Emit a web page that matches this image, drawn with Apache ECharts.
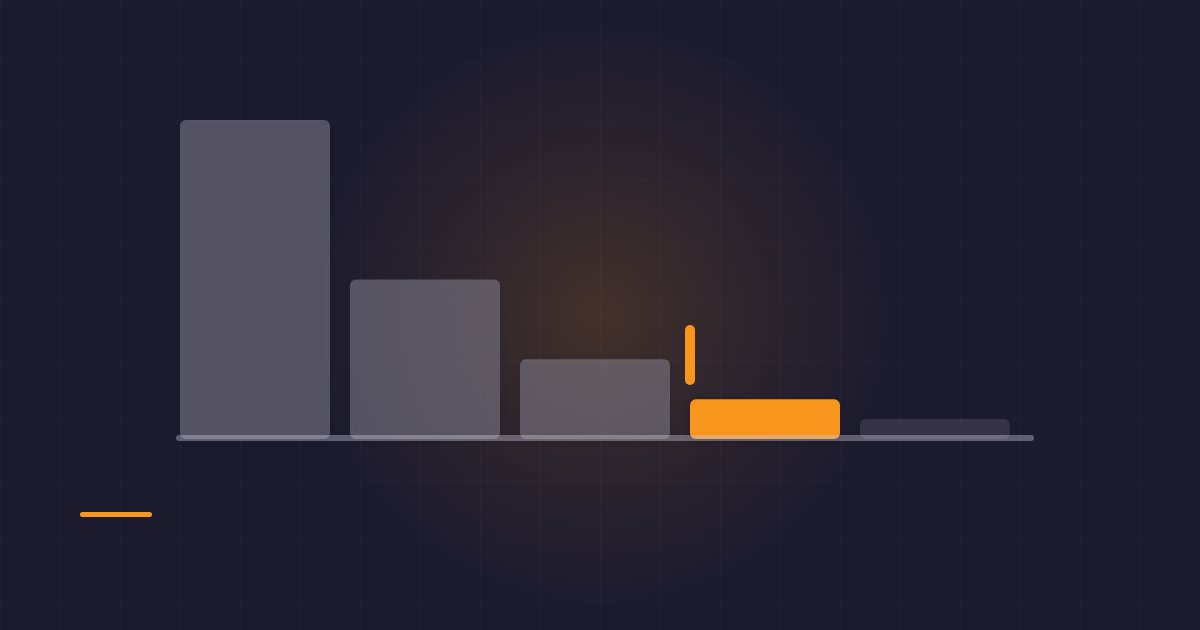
<!DOCTYPE html>
<html>
<head>
<meta charset="utf-8">
<script src="https://cdn.jsdelivr.net/npm/echarts@6/dist/echarts.min.js"></script>
<style>
  html, body { margin: 0; padding: 0; background: #1c1b2e; }
  #main { width: 1200px; height: 630px; }
</style>
</head>
<body>
<div id="main"></div>
<script>
// data
var categories = ['A', 'B', 'C', 'D', 'E'];
var values = [16, 8, 4, 2, 1];
var highlightIndex = 3;
var mutedIndex = 4;

function barColor(i) {
    if (i === highlightIndex) return '#f7951d';
    if (i === mutedIndex) return 'rgba(165,162,180,0.18)';
    return 'rgba(165,162,178,0.42)';
}

var serdata = [];
for (var i = 0; i < values.length; i++) {
    serdata.push({
        value: values[i],
        itemStyle: { color: barColor(i) }
    });
}

var option = {
    backgroundColor: '#1c1b2e',
    animation: false,
    grid: [
        { left: 170, right: 180, top: 120, bottom: 191 },
        { left: 0, right: 0, top: 0, bottom: 0 }
    ],
    xAxis: [
        {
            type: 'category', data: categories, gridIndex: 0,
            axisLine: { show: false }, axisTick: { show: false },
            axisLabel: { show: false }, splitLine: { show: false }
        },
        {
            type: 'value', gridIndex: 1, min: 0, max: 1200, interval: 60,
            axisLine: { show: false }, axisTick: { show: false }, axisLabel: { show: false },
            splitLine: { show: true, lineStyle: { color: 'rgba(255,255,255,0.02)', width: 1 } }
        }
    ],
    yAxis: [
        {
            type: 'value', gridIndex: 0, min: 0, max: 16,
            axisLine: { show: false }, axisTick: { show: false },
            axisLabel: { show: false }, splitLine: { show: false }
        },
        {
            type: 'value', gridIndex: 1, min: 0, max: 630, interval: 60, inverse: true,
            axisLine: { show: false }, axisTick: { show: false }, axisLabel: { show: false },
            splitLine: { show: true, lineStyle: { color: 'rgba(255,255,255,0.02)', width: 1 } }
        }
    ],
    graphic: [
        {
            // warm glow behind the bars
            type: 'circle', z: 0, silent: true,
            shape: { cx: 600, cy: 315, r: 290 },
            style: {
                fill: {
                    type: 'radial', x: 0.5, y: 0.5, r: 0.5,
                    colorStops: [
                        { offset: 0, color: 'rgba(247,149,29,0.18)' },
                        { offset: 0.5, color: 'rgba(247,149,29,0.08)' },
                        { offset: 1, color: 'rgba(247,149,29,0)' }
                    ]
                }
            }
        },
        {
            // baseline
            type: 'rect', z: 10, silent: true,
            shape: { x: 176, y: 435, width: 858, height: 6, r: 3 },
            style: { fill: 'rgba(200,198,215,0.4)' }
        },
        {
            // marker next to the highlighted bar
            type: 'rect', z: 10, silent: true,
            shape: { x: 685, y: 325, width: 10, height: 60, r: 5 },
            style: { fill: '#f7951d' }
        },
        {
            type: 'rect', z: 10, silent: true,
            shape: { x: 80, y: 512, width: 72, height: 5, r: 2.5 },
            style: { fill: '#f7951d' }
        }
    ],
    series: [
        {
            type: 'bar',
            xAxisIndex: 0, yAxisIndex: 0,
            barWidth: 150,
            data: serdata,
            itemStyle: {
                borderRadius: 6,
                shadowBlur: 10,
                shadowColor: 'rgba(0,0,0,0.25)',
                shadowOffsetY: 2
            },
            z: 5
        },
        {
            type: 'scatter', xAxisIndex: 1, yAxisIndex: 1, data: [], silent: true
        }
    ]
};

echarts.init(document.getElementById('main')).setOption(option);
</script>
</body>
</html>
